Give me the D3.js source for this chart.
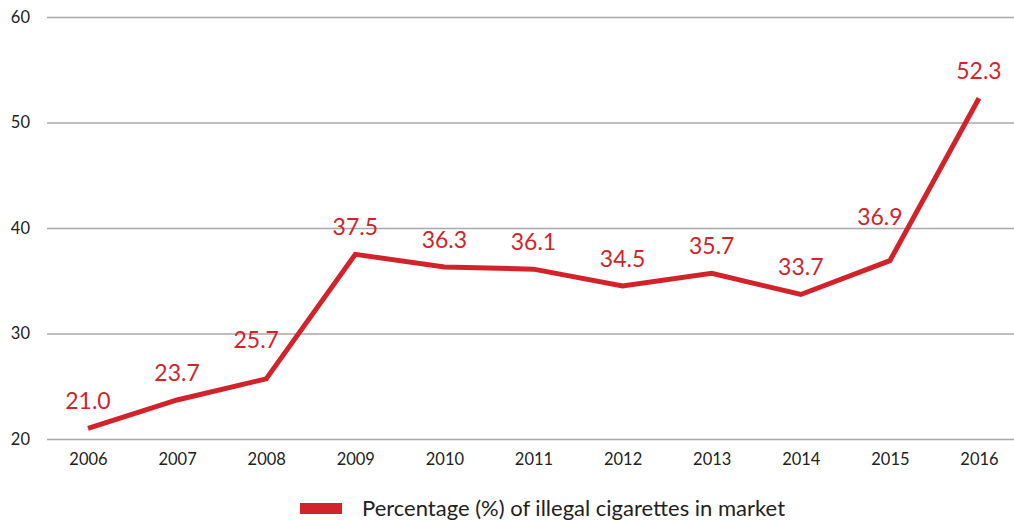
<!DOCTYPE html>
<html>
<head>
<meta charset="utf-8">
<script src="https://cdn.jsdelivr.net/npm/d3@7"></script>
<style>
  html, body { margin: 0; padding: 0; background: #fff; }
  svg { display: block; font-family: Lato, "Open Sans", sans-serif; }
</style>
</head>
<body>
<svg id="chart" width="1014" height="520"></svg>
<script>
// Share of illegal cigarettes in the market, by year
const years = ["2006", "2007", "2008", "2009", "2010", "2011", "2012", "2013", "2014", "2015", "2016"];
const illegalShare = [21.0, 23.7, 25.7, 37.5, 36.3, 36.1, 34.5, 35.7, 33.7, 36.9, 52.3];
const yTicks = [20, 30, 40, 50, 60];
const seriesName = "Percentage (%) of illegal cigarettes in market";

const red = "#d2232a";
const svg = d3.select("#chart");

const gridLeft = 47, gridRight = 1014;
const x = d3.scalePoint().domain(years).range([88, 979]);
const y = d3.scaleLinear().domain([20, 60]).range([439, 17]);

// horizontal gridlines with value labels on the left
const yAxis = svg.append("g")
  .attr("transform", `translate(${gridLeft},0)`)
  .call(d3.axisLeft(y).tickValues(yTicks).tickSize(-(gridRight - gridLeft)).tickPadding(17).tickFormat(d3.format("d")));
yAxis.select(".domain").remove();
yAxis.selectAll(".tick line").attr("stroke", "#a8a8a8").attr("stroke-width", 1.5);
yAxis.selectAll(".tick text")
  .attr("fill", "#222").attr("font-size", 16.5).attr("font-family", "Lato, sans-serif");

// year labels along the bottom
const xAxis = svg.append("g")
  .attr("transform", `translate(0,${y(20)})`)
  .call(d3.axisBottom(x).tickSize(0).tickPadding(14));
xAxis.select(".domain").remove();
xAxis.selectAll(".tick text")
  .attr("fill", "#222").attr("font-size", 16.5).attr("font-family", "Lato, sans-serif");

const points = years.map((yr, i) => ({ year: yr, value: illegalShare[i] }));

// trend line
svg.append("path")
  .datum(points)
  .attr("fill", "none")
  .attr("stroke", red)
  .attr("stroke-width", 5)
  .attr("stroke-linejoin", "miter")
  .attr("d", d3.line().x(d => x(d.year)).y(d => y(d.value)));

// screen y of the polyline at a given screen x
function lineYAt(px) {
  for (let i = 0; i < points.length - 1; i++) {
    const x0 = x(points[i].year), x1 = x(points[i + 1].year);
    if (px >= x0 && px <= x1) {
      const t = (px - x0) / (x1 - x0);
      return y(points[i].value) + t * (y(points[i + 1].value) - y(points[i].value));
    }
  }
  return Infinity;
}

// value labels above each point; nudged left before a steep climb and
// lifted until they clear the line
const labels = svg.append("g").selectAll("text")
  .data(points)
  .join("text")
  .attr("text-anchor", "middle")
  .attr("fill", red)
  .attr("font-size", 23)
  .text(d => d.value.toFixed(1));

labels.each(function (d, i) {
  const node = d3.select(this);
  const px = x(d.year), py = y(d.value);
  const next = points[i + 1];
  const steep = next && (next.value - d.value) > 8;
  const cx = steep ? px - 10 : px;
  let base = py - 19;
  node.attr("x", cx).attr("y", base);
  const w = this.getComputedTextLength();
  const clearance = 6;
  const lineTop = d3.min(d3.range(cx - w / 2, cx + w / 2 + 1, 1), lineYAt);
  if (base + clearance > lineTop) base = lineTop - clearance - 6;
  node.attr("y", base);
});

// legend
const legend = svg.append("g");
legend.append("rect")
  .attr("x", 300).attr("y", 503).attr("width", 42).attr("height", 11)
  .attr("fill", red);
legend.append("text")
  .attr("x", 362).attr("y", 516)
  .attr("fill", "#222")
  .attr("font-size", 22)
  .text(seriesName);
</script>
</body>
</html>
